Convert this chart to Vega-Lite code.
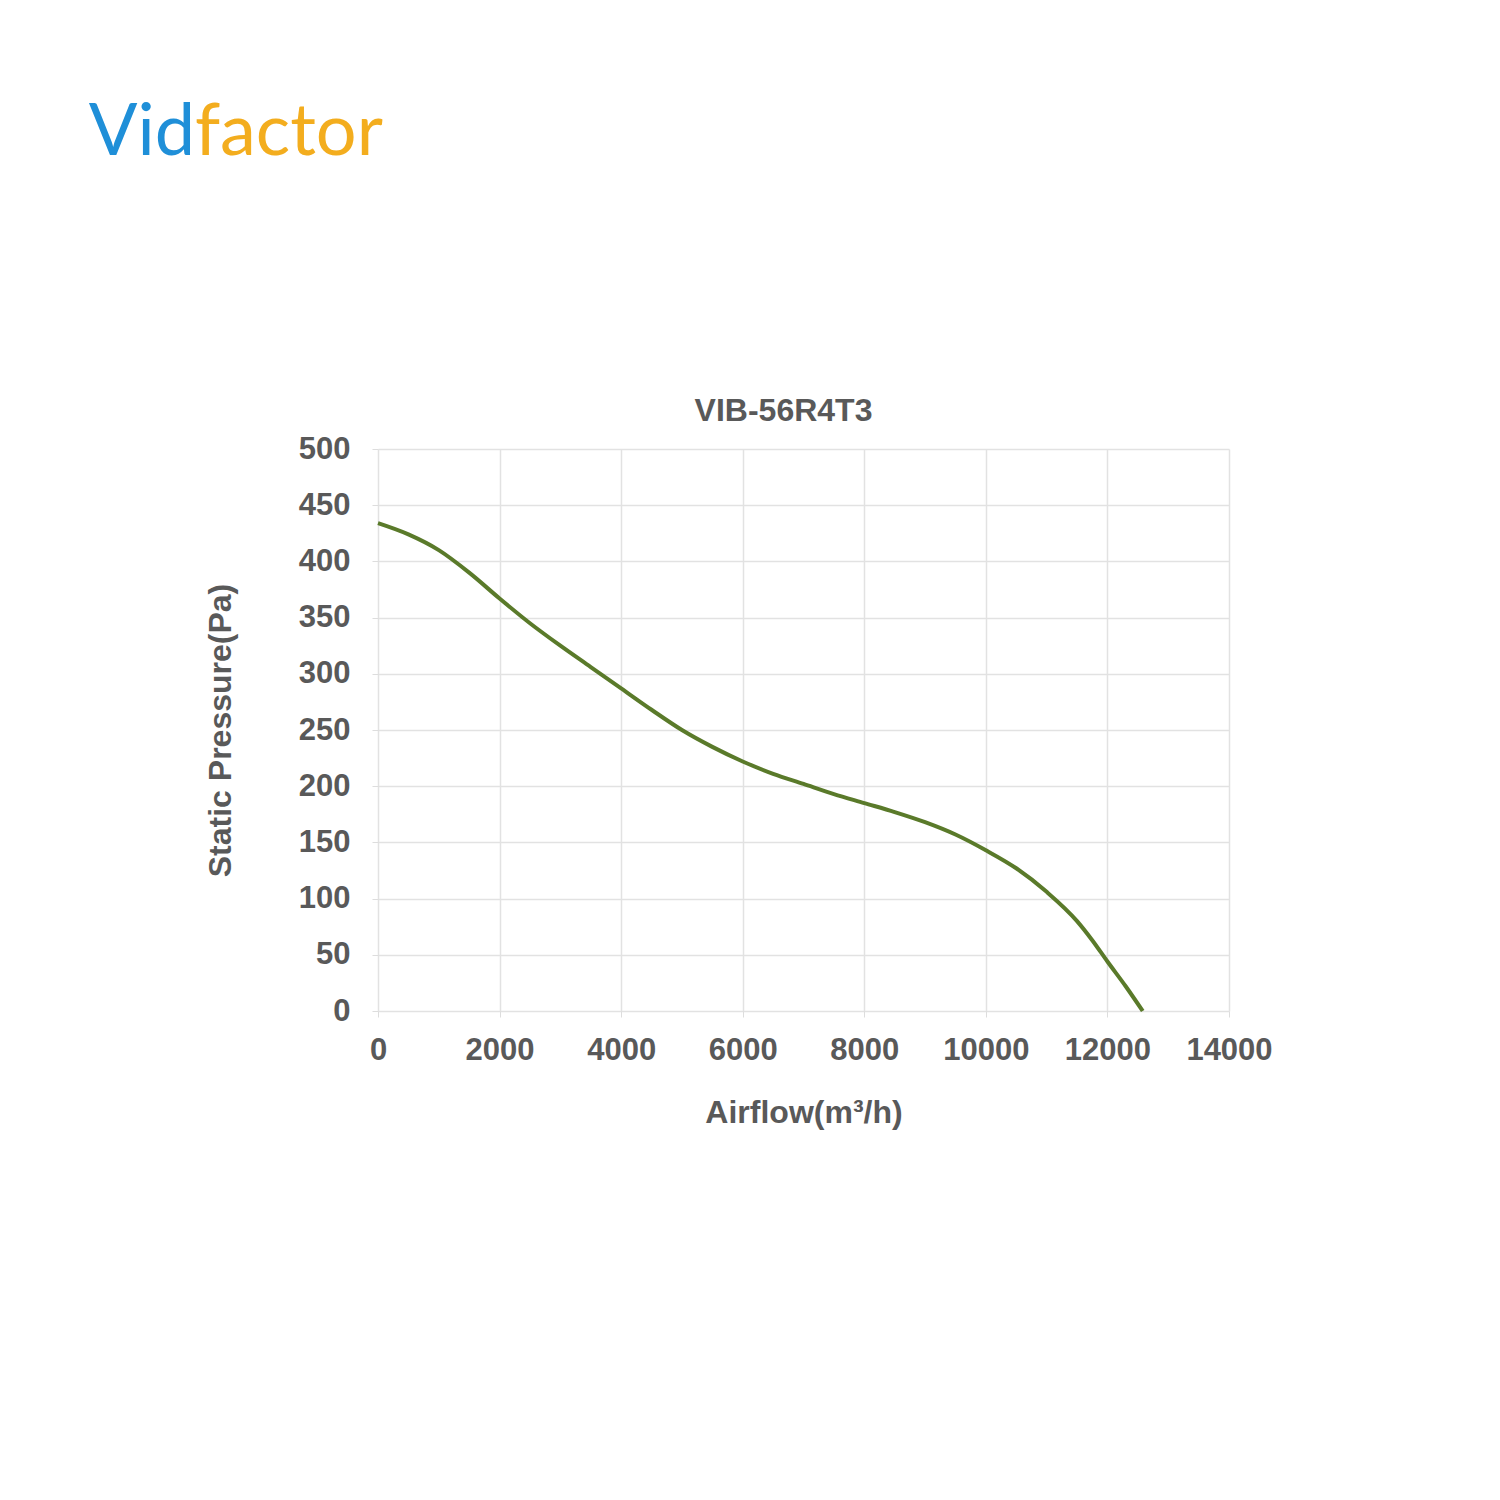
{
  "$schema": "https://vega.github.io/schema/vega-lite/v6.json",
  "background": "white",
  "padding": {"left": 40, "top": 25, "right": 20, "bottom": 20},
  "bounds": "flush",
  "spacing": 164,
  "config": {"font": "Liberation Sans", "view": {"stroke": null}},
  "vconcat": [
    {
      "width": 310,
      "height": 260,
      "data": {"values": [{"label": "Vid", "part": "Vid"}, {"label": "factor", "part": "factor"}]},
      "layer": [
        {
          "transform": [{"filter": "datum.part === 'Vid'"}],
          "mark": {"type": "text", "align": "right", "baseline": "alphabetic", "font": "Lato", "fontSize": 72, "fontWeight": "normal", "color": "#1f8fd8"},
          "encoding": {"text": {"field": "label"}}
        },
        {
          "transform": [{"filter": "datum.part === 'factor'"}],
          "mark": {"type": "text", "align": "left", "baseline": "alphabetic", "font": "Lato", "fontSize": 72, "fontWeight": "normal", "color": "#f3ad1e"},
          "encoding": {"text": {"field": "label"}}
        }
      ]
    },
    {
      "bounds": "flush",
      "spacing": 337,
      "hconcat": [
        {
          "width": 1,
          "height": 562,
          "data": {"values": []},
          "mark": {"type": "point", "opacity": 0}
        },
        {
          "width": 851,
          "height": 562,
          "title": {"text": "VIB-56R4T3", "fontSize": 32, "fontWeight": "bold", "color": "#595959", "anchor": "middle", "offset": 5, "dx": -20},
          "data": {"values": [
            {"airflow": 0, "pressure": 434},
            {"airflow": 500, "pressure": 424},
            {"airflow": 1000, "pressure": 410},
            {"airflow": 1500, "pressure": 390},
            {"airflow": 2000, "pressure": 367},
            {"airflow": 2500, "pressure": 345},
            {"airflow": 3000, "pressure": 325},
            {"airflow": 3500, "pressure": 306},
            {"airflow": 4000, "pressure": 287},
            {"airflow": 4500, "pressure": 268},
            {"airflow": 5000, "pressure": 250},
            {"airflow": 5500, "pressure": 235},
            {"airflow": 6000, "pressure": 222},
            {"airflow": 6500, "pressure": 211},
            {"airflow": 7000, "pressure": 202},
            {"airflow": 7500, "pressure": 193},
            {"airflow": 8000, "pressure": 185},
            {"airflow": 8500, "pressure": 177},
            {"airflow": 9000, "pressure": 168},
            {"airflow": 9500, "pressure": 157},
            {"airflow": 10000, "pressure": 143},
            {"airflow": 10500, "pressure": 127},
            {"airflow": 11000, "pressure": 106},
            {"airflow": 11500, "pressure": 80},
            {"airflow": 11750, "pressure": 63},
            {"airflow": 12000, "pressure": 44},
            {"airflow": 12300, "pressure": 22},
            {"airflow": 12580, "pressure": 0}
          ]},
          "mark": {"type": "line", "interpolate": "monotone", "color": "#5a7a2a", "strokeWidth": 4},
          "encoding": {
            "x": {
              "field": "airflow", "type": "quantitative",
              "scale": {"domain": [0, 14000], "nice": false},
              "axis": {
                "title": "Airflow(m³/h)", "values": [0, 2000, 4000, 6000, 8000, 10000, 12000, 14000], "format": "d",
                "labelFontSize": 31, "labelFontWeight": "bold", "labelColor": "#595959", "labelFlush": false, "labelOverlap": false,
                "labelPadding": 18, "tickSize": 6, "tickColor": "#dddddd", "domain": false,
                "grid": true, "gridColor": "#e2e2e2", "gridWidth": 1.5,
                "titleFontSize": 32, "titleFontWeight": "bold", "titleColor": "#595959", "titlePadding": 32
              }
            },
            "y": {
              "field": "pressure", "type": "quantitative",
              "scale": {"domain": [0, 500], "nice": false},
              "axis": {
                "title": "Static Pressure(Pa)", "values": [0, 50, 100, 150, 200, 250, 300, 350, 400, 450, 500],
                "labelFontSize": 31, "labelFontWeight": "bold", "labelColor": "#595959", "labelFlush": false, "labelOverlap": false,
                "labelPadding": 22, "tickSize": 6, "tickColor": "#dddddd", "domain": false,
                "grid": true, "gridColor": "#e2e2e2", "gridWidth": 1.5,
                "titleFontSize": 32, "titleFontWeight": "bold", "titleColor": "#595959", "titlePadding": 61
              }
            }
          }
        }
      ]
    }
  ]
}
